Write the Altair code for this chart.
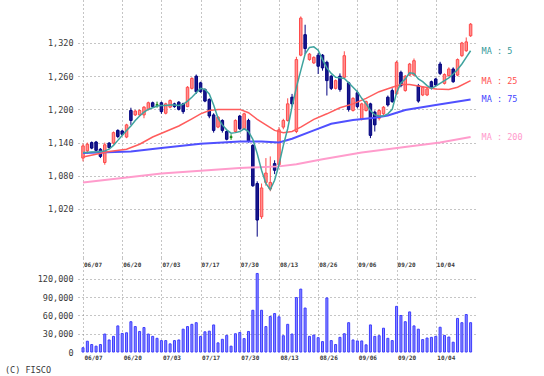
import altair as alt
import pandas as pd

# ---------------- data ----------------
opens = [1112, 1125, 1140, 1141, 1128, 1104, 1139, 1139, 1162, 1161,
         1150, 1198, 1190, 1190, 1190, 1200, 1212, 1208, 1212, 1193,
         1204, 1210, 1213, 1210, 1205, 1238, 1260, 1248, 1236, 1218,
         1190, 1168, 1180, 1160, 1150, 1160, 1188, 1165, 1180, 1135,
         1066, 1006, 1068, 1056, 1102, 1100, 1168, 1180, 1222, 1160,
         1298, 1335, 1290, 1284, 1298, 1298, 1285, 1260, 1238, 1260,
         1258, 1248, 1198, 1230, 1182, 1198, 1210, 1195, 1184, 1192,
         1222, 1234, 1228, 1267, 1234, 1262, 1262, 1243, 1226, 1226,
         1250, 1255, 1282, 1247, 1261, 1273, 1262, 1297, 1306, 1333]
highs = [1138, 1140, 1142, 1143, 1130, 1140, 1141, 1160, 1164, 1163,
         1174, 1203, 1199, 1200, 1206, 1214, 1214, 1214, 1214, 1212,
         1218, 1212, 1215, 1212, 1242, 1258, 1263, 1250, 1238, 1220,
         1193, 1188, 1182, 1162, 1155, 1182, 1190, 1194, 1183, 1137,
         1070, 1066, 1112, 1115, 1108, 1168, 1183, 1220, 1228, 1295,
         1368, 1353, 1302, 1296, 1302, 1300, 1288, 1262, 1254, 1265,
         1305, 1250, 1222, 1234, 1212, 1216, 1212, 1198, 1200, 1206,
         1225, 1238, 1288, 1270, 1262, 1284, 1292, 1246, 1242, 1240,
         1252, 1257, 1286, 1265, 1276, 1276, 1292, 1322, 1330, 1356]
lows = [1106, 1120, 1128, 1124, 1112, 1100, 1129, 1137, 1148, 1152,
        1148, 1172, 1188, 1188, 1184, 1198, 1203, 1203, 1192, 1191,
        1202, 1203, 1198, 1192, 1204, 1236, 1228, 1230, 1213, 1184,
        1158, 1166, 1158, 1144, 1145, 1158, 1163, 1163, 1140, 1060,
        970, 1002, 1062, 1052, 1083, 1098, 1164, 1178, 1205, 1157,
        1296, 1300, 1288, 1282, 1264, 1270, 1225, 1235, 1236, 1232,
        1256, 1196, 1196, 1202, 1180, 1196, 1148, 1160, 1180, 1190,
        1205, 1212, 1226, 1240, 1232, 1260, 1260, 1212, 1224, 1224,
        1236, 1242, 1262, 1245, 1259, 1248, 1260, 1295, 1304, 1331]
closes = [1134, 1137, 1130, 1126, 1115, 1136, 1131, 1158, 1151, 1155,
          1172, 1180, 1197, 1198, 1204, 1212, 1205, 1208, 1196, 1210,
          1216, 1205, 1200, 1196, 1240, 1256, 1232, 1232, 1215, 1188,
          1162, 1186, 1162, 1146, 1150, 1180, 1165, 1192, 1142, 1062,
          1000, 1058, 1085, 1068, 1090, 1163, 1180, 1210, 1210, 1290,
          1365, 1310, 1300, 1294, 1278, 1275, 1252, 1238, 1252, 1236,
          1297, 1200, 1220, 1205, 1210, 1214, 1153, 1172, 1198, 1204,
          1208, 1214, 1285, 1243, 1260, 1282, 1288, 1215, 1240, 1237,
          1240, 1244, 1265, 1263, 1273, 1250, 1290, 1320, 1322, 1354]
volumes = [7000, 17700, 12300, 9600, 12300, 29500, 19800, 25700, 42900, 30500,
           31600, 49800, 41800, 33800, 40200, 29500, 25700, 22500, 18750, 18750,
           13400, 18750, 19800, 37500, 41800, 45500, 48200, 25700, 33200, 34300,
           44500, 15000, 20900, 27300, 9600, 30000, 32100, 22000, 33800, 68600,
           129100, 68600, 41800, 58400, 63200, 57900, 26800, 45500, 29500, 89500,
           103400, 72300, 25700, 27900, 23600, 17100, 88900, 18750, 12300, 24100,
           30000, 48200, 19800, 18200, 18200, 11800, 44500, 25700, 26800, 39100,
           22500, 18750, 75000, 60000, 49800, 65900, 42900, 37500, 20400, 23000,
           24100, 25700, 40700, 27300, 24600, 16100, 55200, 48200, 61600, 48200]

ma5 = [1122, 1122, 1123, 1123, 1124, 1125, 1128, 1135, 1144, 1153,
       1162, 1170, 1180, 1188, 1195, 1200, 1203, 1206, 1207, 1207,
       1208, 1208, 1207, 1209, 1215, 1222, 1230, 1238, 1236, 1228,
       1208, 1184, 1172, 1163, 1157, 1158, 1160, 1165, 1160, 1146,
       1120, 1090, 1066, 1055, 1072, 1100, 1135, 1165, 1205, 1240,
       1270, 1300, 1312, 1313, 1307, 1290, 1275, 1265, 1258, 1257,
       1256, 1248, 1240, 1232, 1220, 1210, 1198, 1190, 1188, 1188,
       1192, 1200, 1230, 1248, 1255, 1266, 1265, 1255, 1250, 1243,
       1238, 1242, 1247, 1252, 1257, 1264, 1272, 1282, 1294, 1306]

ma25_idx = [0, 6, 10, 13, 16, 19, 22, 25, 27, 29, 31, 36, 38, 40, 42, 44, 46,
            48, 50, 53, 56, 59, 62, 65, 68, 71, 73, 75, 78, 81, 84, 86, 89]
ma25_val = [1114, 1124, 1128, 1137, 1150, 1160, 1170, 1183, 1192, 1198, 1200,
            1200, 1194, 1182, 1172, 1162, 1158, 1160, 1168, 1182, 1192, 1203,
            1210, 1220, 1232, 1240, 1245, 1245, 1241, 1237, 1236, 1240, 1252]

ma75_idx = [0, 11, 18, 27, 36, 41, 45, 48, 53, 57, 62, 67, 70, 74, 81, 89]
ma75_val = [1121, 1124, 1130, 1138, 1142, 1142, 1140, 1147, 1162, 1174, 1181,
            1185, 1189, 1199, 1208, 1218]

ma200_idx = [0, 18, 36, 45, 49, 55, 64, 73, 82, 89]
ma200_val = [1068, 1084, 1094, 1097, 1101, 1110, 1122, 1131, 1140, 1150]

ma_names = ["MA : 5", "MA : 25", "MA : 75", "MA : 200"]

tick_idx = [0, 9, 18, 27, 36, 45, 54, 63, 72, 81]
tick_labels = ["06/07", "06/20", "07/03", "07/17", "07/30",
               "08/13", "08/26", "09/06", "09/20", "10/04"]
price_ticks = [1020, 1080, 1140, 1200, 1260, 1320]
vol_ticks = [0, 30000, 60000, 90000, 120000]
credit = "(C) FISCO"

# ---------------- tables ----------------
n = len(closes)
dirs = ["up" if c > o else ("down" if c < o else "flat") for o, c in zip(opens, closes)]
ohlc = pd.DataFrame({"i": list(range(n)), "open": opens, "high": highs,
                     "low": lows, "close": closes, "dir": dirs, "vol": volumes})
ma_frames = [
    pd.DataFrame({"i": list(range(n)), "v": ma5}),
    pd.DataFrame({"i": ma25_idx, "v": ma25_val}),
    pd.DataFrame({"i": ma75_idx, "v": ma75_val}),
    pd.DataFrame({"i": ma200_idx, "v": ma200_val}),
]
ma_last = pd.DataFrame({"i": [f["i"].iloc[-1] for f in ma_frames],
                        "v": [f["v"].iloc[-1] for f in ma_frames],
                        "name": ma_names})
ticks_df = pd.DataFrame({"i": tick_idx, "label": tick_labels})

# ---------------- styling ----------------
MONO = "DejaVu Sans Mono"
GRID = "#8a8a8a"
TXT = "#3a3a3a"
line_colors = ["#3fa39e", "#ff5c5c", "#5050ff", "#ff9ccc"]
label_colors = ["#339999", "#ff5050", "#4444ff", "#ff99cc"]
line_widths = [1.5, 1.5, 2, 2]

xs = alt.Scale(domain=[0, 89.55], nice=False, zero=False)
ys = alt.Scale(domain=[931.4, 1397.7], nice=False, zero=False)
yv = alt.Scale(domain=[0, 154520], nice=False)

x_axis_price = alt.Axis(values=tick_idx, grid=True, gridDash=[1, 3], gridColor=GRID,
                        labels=False, ticks=False, domain=False, title=None)
y_axis_price = alt.Axis(values=price_ticks, format=",d", grid=True, gridDash=[1, 3],
                        gridColor=GRID, ticks=False, domain=False, title=None,
                        labelPadding=5, labelFont=MONO, labelFontSize=8.5,
                        labelColor=TXT, labelFlush=False)

label_expr = "[" + ",".join("'%s'" % t for t in tick_labels) + "][round(datum.value / 9)]"
x_axis_vol = alt.Axis(values=tick_idx, grid=True, gridDash=[1, 3], gridColor=GRID,
                      labelExpr=label_expr, labelAlign="left", labelBaseline="top",
                      labelFont=MONO, labelFontSize=6, labelFontWeight="bold",
                      labelColor=TXT, labelPadding=2, labelFlush=False,
                      labelOverlap=False, ticks=False, domain=False, title=None,
                      labelOffset=1)
y_axis_vol = alt.Axis(values=vol_ticks, format=",d", grid=True, gridDash=[1, 3],
                      gridColor=GRID,
                      gridOpacity=alt.condition("datum.value == 0", alt.value(0), alt.value(1)),
                      ticks=False, domain=False, title=None, labelPadding=5,
                      labelFont=MONO, labelFontSize=8.5, labelColor=TXT,
                      labelFlush=False)

xenc = alt.X("i:Q", scale=xs, axis=x_axis_price)
dir_dom = ["up", "down", "flat"]
stroke_scale = alt.Scale(domain=dir_dom, range=["#ff4a4a", "#000080", "#008000"])
fill_scale = alt.Scale(domain=dir_dom, range=["#ff9090", "#1a1a8a", "#008000"])

wicks = alt.Chart(ohlc).mark_rule(strokeWidth=1).encode(
    x=xenc,
    y=alt.Y("low:Q", scale=ys, axis=y_axis_price),
    y2="high:Q",
    stroke=alt.Stroke("dir:N", scale=stroke_scale, legend=None),
)
bodies = alt.Chart(ohlc).mark_bar(size=2.5, strokeWidth=1).encode(
    x=xenc,
    y=alt.Y("open:Q", scale=ys, axis=y_axis_price),
    y2="close:Q",
    fill=alt.Fill("dir:N", scale=fill_scale, legend=None),
    stroke=alt.Stroke("dir:N", scale=stroke_scale, legend=None),
)

lines = []
for f, c, w in zip(ma_frames, line_colors, line_widths):
    lines.append(alt.Chart(f).mark_line(color=c, strokeWidth=w, interpolate="linear").encode(
        x=xenc, y=alt.Y("v:Q", scale=ys, axis=y_axis_price)))
lines = lines[::-1]  # MA5 on top

ma_text = alt.Chart(ma_last).mark_text(align="left", baseline="middle", dx=11,
                                       font=MONO, fontSize=8.5).encode(
    x=xenc,
    y=alt.Y("v:Q", scale=ys, axis=y_axis_price),
    text="name:N",
    fill=alt.Fill("name:N", scale=alt.Scale(domain=ma_names, range=label_colors), legend=None),
)

price = alt.layer(wicks, bodies, *lines, ma_text).resolve_scale(
    fill="independent", stroke="independent").properties(width=400, height=258)

xenc_v = alt.X("i:Q", scale=xs, axis=x_axis_vol)
vol_bars = alt.Chart(ohlc).mark_bar(size=2, fill="#8c8cff", stroke="#3c3cff", strokeWidth=1).encode(
    x=xenc_v, y=alt.Y("vol:Q", scale=yv, axis=y_axis_vol))
top_labels = alt.Chart(ticks_df).mark_text(align="left", baseline="middle", dx=1,
                                           font=MONO, fontSize=6, fontWeight="bold",
                                           color=TXT).encode(
    x=xenc_v, y=alt.value(7), text="label:N")
credit_text = alt.Chart(pd.DataFrame({"t": [credit]})).mark_text(
    align="left", baseline="middle", font=MONO, fontSize=8.5, color=TXT).encode(
    x=alt.value(-73), y=alt.value(112), text="t:N")

volume = alt.layer(vol_bars, top_labels, credit_text).properties(width=400, height=94)

chart = alt.vconcat(price, volume, spacing=0).properties(
    padding={"left": 5, "top": 0, "right": 5, "bottom": 0},
    background="white",
).configure_view(stroke=None)

chart.save("out.html", embed_options={"renderer": "svg", "actions": False})
